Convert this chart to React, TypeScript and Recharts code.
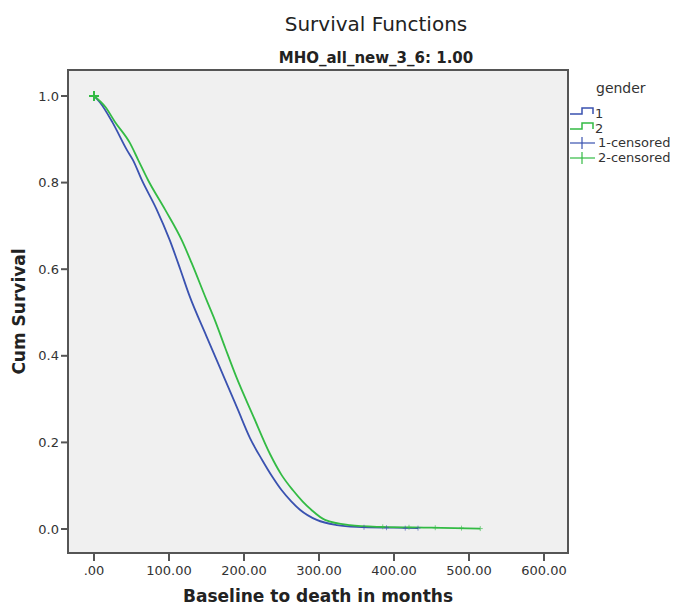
import React from "react";
import {
  ComposedChart,
  Line,
  Scatter,
  XAxis,
  YAxis,
  CartesianGrid,
  ReferenceArea,
} from "recharts";

// Kaplan-Meier estimates
const blueMonths = [0, 8, 25, 44, 52, 64, 83, 101, 115, 127, 150, 175, 192, 208, 224, 238, 250, 263, 275, 297, 324, 350, 400, 432];
const blueSurv = [1.0, 0.985, 0.938, 0.875, 0.852, 0.805, 0.74, 0.667, 0.6, 0.54, 0.445, 0.344, 0.275, 0.21, 0.16, 0.12, 0.09, 0.064, 0.044, 0.021, 0.009, 0.005, 0.003, 0.002];

const greenMonths = [0, 15, 28, 48, 59, 72, 95, 117, 130, 150, 161, 175, 190, 212, 235, 250, 265, 278, 290, 308, 341, 380, 450, 515];
const greenSurv = [1.0, 0.975, 0.94, 0.891, 0.852, 0.806, 0.737, 0.667, 0.615, 0.529, 0.483, 0.418, 0.35, 0.262, 0.172, 0.125, 0.09, 0.064, 0.044, 0.021, 0.009, 0.005, 0.003, 0.001];

const blueCensorMonths = [0, 360, 390, 415, 432];
const blueCensorSurv = [1.0, 0.004, 0.003, 0.002, 0.002];
const greenCensorMonths = [0, 385, 420, 455, 490, 515];
const greenCensorSurv = [1.0, 0.005, 0.004, 0.003, 0.002, 0.001];

const xTicks = [0, 100, 200, 300, 400, 500, 600];
const yTicks = [0, 0.2, 0.4, 0.6, 0.8, 1.0];

const X_MIN = -34.67;
const X_MAX = 632;
const Y_MIN = -0.0554;
const Y_MAX = 1.06;

const BLUE = "#3a52b0";
const GREEN = "#33bb44";
const FONT = "DejaVu Sans";

const toRows = (t: number[], s: number[]) => t.map((v, i) => ({ t: v, s: s[i] }));

const blueData = toRows(blueMonths, blueSurv);
const greenData = toRows(greenMonths, greenSurv);
const blueCensor = toRows(blueCensorMonths, blueCensorSurv);
const greenCensor = toRows(greenCensorMonths, greenCensorSurv);

const crossShape = (color: string) => (props: any) => {
  const { cx, cy, payload } = props;
  const r = payload.t === 0 ? 5 : 2.5;
  return (
    <g stroke={color} strokeWidth={payload.t === 0 ? 2 : 1} opacity={payload.t === 0 ? 1 : 0.6}>
      <line x1={cx - r} y1={cy} x2={cx + r} y2={cy} />
      <line x1={cx} y1={cy - r} x2={cx} y2={cy + r} />
    </g>
  );
};

const fmtX = (v: number) => (v === 0 ? ".00" : v.toFixed(2));
const fmtY = (v: number) => v.toFixed(1);

const LegendBox = () => (
  <svg width={110} height={90} style={{ position: "absolute", left: 565, top: 78, fontFamily: FONT }}>
    <text x={31} y={15} fontSize={14} fill="#333">gender</text>
    <path d="M5 36 H17 V30 H28 V36" fill="none" stroke={BLUE} strokeWidth={1.5} />
    <text x={30} y={40} fontSize={13} fill="#333">1</text>
    <path d="M5 51 H17 V45 H28 V51" fill="none" stroke={GREEN} strokeWidth={1.5} />
    <text x={30} y={55} fontSize={13} fill="#333">2</text>
    <line x1={5} y1={65} x2={30} y2={65} stroke={BLUE} strokeWidth={1.2} />
    <line x1={17} y1={59} x2={17} y2={71} stroke={BLUE} strokeWidth={1.2} />
    <text x={33} y={69} fontSize={13} fill="#333">1-censored</text>
    <line x1={5} y1={80} x2={30} y2={80} stroke={GREEN} strokeWidth={1.2} />
    <line x1={17} y1={74} x2={17} y2={86} stroke={GREEN} strokeWidth={1.2} />
    <text x={33} y={84} fontSize={13} fill="#333">2-censored</text>
  </svg>
);

export default function App() {
  return (
    <div style={{ position: "absolute", left: 0, top: 0, width: 676, height: 606, background: "#fff", fontFamily: FONT }}>
      <svg width={676} height={70} style={{ position: "absolute", left: 0, top: 0 }}>
        <text x={376} y={31} textAnchor="middle" fontSize={20} fill="#222" fontFamily={FONT}>
          Survival Functions
        </text>
        <text x={376} y={63} textAnchor="middle" fontSize={15} fontWeight="bold" fill="#222" fontFamily={FONT}>
          MHO_all_new_3_6: 1.00
        </text>
      </svg>
      <ComposedChart
        width={676}
        height={606}
        margin={{ top: 70, right: 108, bottom: 0, left: 0 }}
        style={{ position: "absolute", left: 0, top: 0 }}
      >
        <CartesianGrid fill="#f0f0f0" horizontal={false} vertical={false} />
        <XAxis
          type="number"
          dataKey="t"
          domain={[X_MIN, X_MAX]}
          ticks={xTicks}
          tickFormatter={fmtX}
          allowDataOverflow
          height={53}
          tickSize={8}
          tickMargin={5}
          stroke="#555"
          strokeWidth={2}
          tick={{ fill: "#333", fontSize: 13, fontFamily: FONT }}
          label={{ value: "Baseline to death in months", position: "insideBottom", offset: 4, fontSize: 17, fontWeight: "bold", fill: "#222", fontFamily: FONT }}
        />
        <YAxis
          type="number"
          dataKey="s"
          domain={[Y_MIN, Y_MAX]}
          ticks={yTicks}
          tickFormatter={fmtY}
          allowDataOverflow
          width={68}
          tickSize={7}
          tickMargin={2}
          stroke="#555"
          strokeWidth={2}
          tick={{ fill: "#333", fontSize: 13, fontFamily: FONT }}
          label={{ value: "Cum Survival", angle: -90, position: "insideLeft", offset: 19, fontSize: 17, fontWeight: "bold", fill: "#222", fontFamily: FONT, style: { textAnchor: "middle" } }}
        />
        <ReferenceArea x1={X_MIN} x2={X_MAX} y1={Y_MIN} y2={Y_MAX} fill="none" stroke="#555" strokeWidth={2} ifOverflow="visible" />
        <Line data={blueData} dataKey="s" type="monotoneX" stroke={BLUE} strokeWidth={1.8} dot={false} isAnimationActive={false} />
        <Line data={greenData} dataKey="s" type="monotoneX" stroke={GREEN} strokeWidth={1.8} dot={false} isAnimationActive={false} />
        <Scatter data={blueCensor} dataKey="s" shape={crossShape(BLUE)} isAnimationActive={false} />
        <Scatter data={greenCensor} dataKey="s" shape={crossShape(GREEN)} isAnimationActive={false} />
      </ComposedChart>
      <LegendBox />
    </div>
  );
}
